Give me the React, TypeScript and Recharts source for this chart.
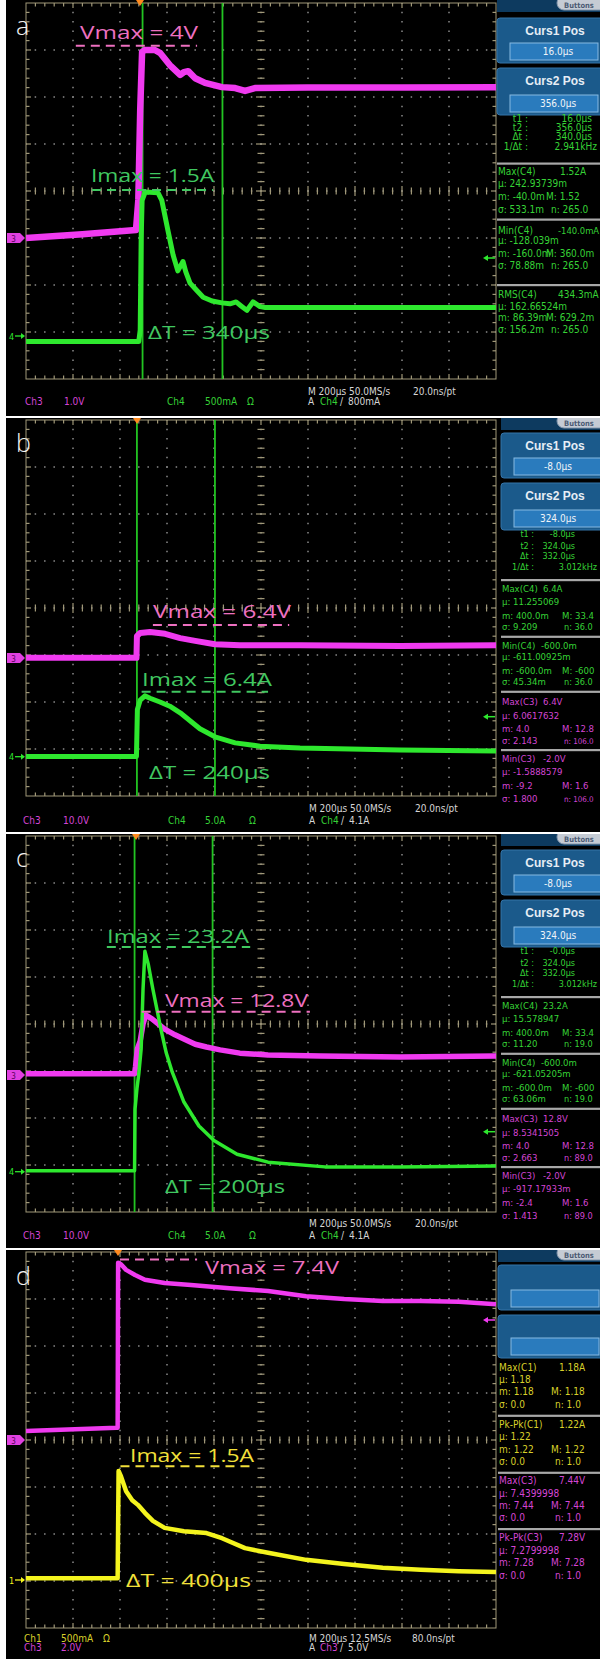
import React from 'react';
import { ComposedChart, Line, XAxis, YAxis, ReferenceLine, ReferenceArea } from 'recharts';

// ===================== values =====================
// time in µs from the trigger, voltage in V (Ch3), current in A (Ch4 / Ch1)

// ---- a) Ch3 1.0 V/div, Ch4 500 mA/div
const aVoltTime = [-480, -240, -12, -2, 6, 14, 26, 68, 90, 132, 176, 192, 210, 240, 282, 354, 410, 452, 494, 720, 1120, 1520];
const aVolt = [0, 0.08, 0.17, 0.81, 2.72, 3.96, 4, 4, 3.94, 3.68, 3.47, 3.53, 3.55, 3.4, 3.3, 3.21, 3.19, 3.13, 3.19, 3.2, 3.2, 3.21];
const aCurrTime = [-480, 0, 6, 10, 14, 26, 30, 82, 98, 124, 146, 166, 188, 200, 218, 244, 274, 312, 354, 388, 414, 434, 460, 486, 516, 538, 1020, 1520];
const aCurr = [0, 0, 0.12, 1.08, 1.5, 1.58, 1.59, 1.58, 1.5, 1.18, 0.92, 0.75, 0.85, 0.74, 0.62, 0.55, 0.47, 0.43, 0.41, 0.4, 0.42, 0.38, 0.33, 0.42, 0.37, 0.36, 0.36, 0.36];
const aCursors = [16, 356];

// ---- b) Ch3 10.0 V/div, Ch4 5.0 A/div
const bVoltTime = [-480, -10, -8, 6, 48, 112, 176, 240, 324, 430, 686, 1112, 1520];
const bVolt = [0, 0, 4.6, 5.3, 5.5, 5.1, 4.2, 3.6, 2.9, 2.7, 2.7, 2.5, 2.7];
const bCurrTime = [-480, -10, -6, 6, 26, 48, 90, 132, 176, 218, 260, 324, 410, 516, 686, 1112, 1520];
const bCurr = [0, 0, 5.0, 6.0, 6.45, 6.2, 5.8, 5.35, 4.65, 3.8, 2.95, 2.1, 1.45, 1.1, 0.9, 0.7, 0.6];
const bCursors = [-8, 324];

// ---- c) Ch3 10.0 V/div, Ch4 5.0 A/div
const cVoltTime = [-470, -8, -4, 4, 16, 28, 40, 66, 120, 164, 202, 250, 298, 356, 440, 560, 782, 1122, 1530];
const cVolt = [0, 0, 1.5, 5.3, 7.0, 10.6, 12.5, 11.7, 9.5, 8.3, 7.4, 6.3, 5.7, 5.1, 4.4, 4.0, 3.8, 3.6, 3.8];
const cCurrTime = [-470, -8, -6, 2, 10, 20, 28, 36, 50, 70, 104, 126, 152, 202, 266, 330, 428, 560, 802, 1122, 1530];
const cCurr = [0, 0, 6.55, 8.7, 10.3, 12.95, 19.3, 23.35, 22.0, 19.3, 15.05, 12.6, 10.5, 7.3, 4.75, 3.2, 1.75, 0.9, 0.4, 0.4, 0.5];
const cCursors = [-8, 324];

// ---- d) Ch3 2.0 V/div, Ch1 500 mA/div
const dVoltTime = [-392, -6, -2, 0, 12, 34, 72, 114, 198, 310, 474, 638, 800, 962, 1126, 1288, 1450, 1608];
const dVolt = [0.38, 0.52, 0.52, 7.54, 7.48, 7.24, 7.02, 6.82, 6.68, 6.6, 6.46, 6.34, 6.12, 6.0, 5.92, 5.92, 5.88, 5.78];
const dCurrTime = [-392, -2, 2, 12, 34, 60, 84, 114, 148, 198, 280, 376, 442, 540, 638, 800, 962, 1126, 1288, 1450, 1608];
const dCurr = [0, 0, 1.14, 1.085, 0.925, 0.83, 0.78, 0.695, 0.61, 0.535, 0.5, 0.48, 0.425, 0.32, 0.27, 0.195, 0.15, 0.11, 0.09, 0.075, 0.065];

// ===================== styles =====================
const NARROW = "'Liberation Sans Narrow', 'DejaVu Sans Condensed', 'Arial Narrow', sans-serif";
const BOLD = "'Liberation Sans', Arial, sans-serif";
const ANN = "'Open Sans', Lato, sans-serif";
const MAG = '#f03af0';
const GRN = '#2ee82e';
const YEL = '#f4f41e';
const CURSOR = '#22c422';
const PINK = '#ee70c0';
const GRN_ANN = '#40c860';
const YEL_ANN = '#f2e03a';
const GRN_T = '#36d236';
const MAG_T = '#d445d4';
const YEL_T = '#d8d02a';
const WHT_T = '#d6d6d6';
const FRAME = '#a09878';
const DOT = '#8a8a8a';
const RIGHT = 597;

type Pt = { t: number; y: number };
const zip = (ts: number[], ys: number[]): Pt[] => ts.map((t, i) => ({ t, y: ys[i] }));

function Graticule(props: any) {
  const { x, y, width: w, height: h } = props;
  const dx = w / 10, dy = h / 8, mx = dx / 5, my = dy / 5;
  const cx = x + w / 2, cy = y + h / 2;
  const out: React.ReactNode[] = [];
  for (let i = 1; i < 10; i++) {
    const xx = x + i * dx;
    out.push(<line key={'gv' + i} x1={xx} x2={xx} y1={y} y2={y + h} stroke={DOT} strokeWidth={1.5} strokeDasharray={`1.5 ${my - 1.5}`} strokeDashoffset={0.75} />);
  }
  for (let j = 1; j < 8; j++) {
    const yy = y + j * dy;
    out.push(<line key={'gh' + j} x1={x} x2={x + w} y1={yy} y2={yy} stroke={DOT} strokeWidth={1.5} strokeDasharray={`1.5 ${mx - 1.5}`} strokeDashoffset={0.75} />);
  }
  for (let k = 1; k < 50; k++) {
    const xx = x + k * mx;
    const L = k % 5 === 0 ? 5 : 3.5;
    out.push(<line key={'tc' + k} x1={xx} x2={xx} y1={cy - L} y2={cy + L} stroke={FRAME} strokeWidth={1.2} />);
    out.push(<line key={'tt' + k} x1={xx} x2={xx} y1={y} y2={y + L} stroke={FRAME} strokeWidth={1.2} />);
    out.push(<line key={'tb' + k} x1={xx} x2={xx} y1={y + h - L} y2={y + h} stroke={FRAME} strokeWidth={1.2} />);
  }
  for (let k = 1; k < 40; k++) {
    const yy = y + k * my;
    const L = k % 5 === 0 ? 5 : 3.5;
    out.push(<line key={'vc' + k} x1={cx - L} x2={cx + L} y1={yy} y2={yy} stroke={FRAME} strokeWidth={1.2} />);
    out.push(<line key={'vl' + k} x1={x} x2={x + L} y1={yy} y2={yy} stroke={FRAME} strokeWidth={1.2} />);
    out.push(<line key={'vr' + k} x1={x + w - L} x2={x + w} y1={yy} y2={yy} stroke={FRAME} strokeWidth={1.2} />);
  }
  out.push(<rect key="fr" x={x} y={y} width={w} height={h} fill="none" stroke={FRAME} strokeWidth={1} />);
  return <g>{out}</g>;
}

type Dash = { axis: 'v' | 'i'; t1: number; t2: number; y: number; color: string };
type PanelProps = {
  top: number; height: number; mTop: number;
  tDom: [number, number]; vDom: [number, number]; iDom: [number, number];
  vData: Pt[]; iData: Pt[]; vColor: string; iColor: string; vW: number; iW: number;
  cursors: number[]; dashes: Dash[]; children?: React.ReactNode;
};

function Panel(p: PanelProps) {
  return (
    <div style={{ position: 'absolute', left: 0, top: p.top, width: 600, height: p.height, overflow: 'hidden' }}>
      <div style={{ position: 'absolute', left: 6, top: 0, width: 594, height: p.height, background: '#000' }} />
      <div style={{ position: 'absolute', left: 0, top: 0 }}>
        <ComposedChart width={600} height={p.height} margin={{ top: p.mTop, right: 104, bottom: p.height - p.mTop - 376, left: 26 }}>
          <XAxis type="number" dataKey="t" domain={p.tDom} hide allowDataOverflow />
          <YAxis yAxisId="v" type="number" domain={p.vDom} hide allowDataOverflow />
          <YAxis yAxisId="i" type="number" domain={p.iDom} hide allowDataOverflow />
          <ReferenceArea yAxisId="v" x1={p.tDom[0]} x2={p.tDom[1]} y1={p.vDom[0]} y2={p.vDom[1]} shape={Graticule} ifOverflow="visible" />
          {p.cursors.map((c, k) => (
            <ReferenceLine key={'c' + k} yAxisId="v" x={c} stroke={CURSOR} strokeWidth={1.8} ifOverflow="visible" />
          ))}
          <Line yAxisId="v" data={p.vData} dataKey="y" type="linear" stroke={p.vColor} strokeWidth={p.vW} dot={false} strokeLinejoin="round" isAnimationActive={false} />
          <Line yAxisId="i" data={p.iData} dataKey="y" type="linear" stroke={p.iColor} strokeWidth={p.iW} dot={false} strokeLinejoin="round" isAnimationActive={false} />
          {p.dashes.map((d, k) => (
            <ReferenceLine key={'d' + k} yAxisId={d.axis} segment={[{ x: d.t1, y: d.y }, { x: d.t2, y: d.y }]} stroke={d.color} strokeWidth={2} strokeDasharray="9 6" ifOverflow="visible" />
          ))}
        </ComposedChart>
      </div>
      <svg width={600} height={p.height} style={{ position: 'absolute', left: 0, top: 0, pointerEvents: 'none' }}>
        {p.children}
      </svg>
    </div>
  );
}

// text helper; a text that would run past the right edge gets a smaller font so it fits
const Tx = ({ x, y, c = WHT_T, s = 10, a = 'start', f = NARROW, b = false, children }: any) => {
  let fs = s;
  if (a === 'start' && typeof children === 'string') {
    const est = children.length * s * 0.52;
    if (x + est > RIGHT) fs = Math.max(7, (s * (RIGHT - x)) / est);
  }
  return (
    <text x={x} y={y} fill={c} fontSize={fs} textAnchor={a} fontFamily={f} fontWeight={b ? 700 : 400}>{children}</text>
  );
};

const Ann = ({ x, y, w, c, children }: any) => (
  <text x={x} y={y} fill={c} fontSize={19} fontFamily={ANN} textLength={w} lengthAdjust="spacingAndGlyphs">{children}</text>
);

const Letter = ({ ch, y }: any) => (
  <text x={16} y={y} fill="#f2f2f2" fontSize={25} fontFamily={ANN} fontWeight={300}>{ch}</text>
);

const Trig = ({ x }: any) => <polygon points={`${x - 4},0 ${x + 4},0 ${x},6`} fill="#ff8a1e" />;

const MagMark = ({ y, n = '3' }: any) => (
  <g>
    <rect x={7} y={y - 5} width={13} height={10} fill="#e040e0" />
    <polygon points={`20,${y - 5} 25,${y} 20,${y + 5}`} fill="#e040e0" />
    <text x={13.5} y={y + 3.5} fontSize={8} fill="#5a005a" textAnchor="middle" fontFamily={NARROW}>{n}</text>
  </g>
);

const TxtMark = ({ y, n, c }: any) => (
  <g>
    <text x={9} y={y + 3.5} fontSize={9} fill={c} fontFamily={NARROW}>{n}</text>
    <line x1={15} x2={24} y1={y} y2={y} stroke={c} strokeWidth={1.3} />
    <polygon points={`21,${y - 3} 25,${y} 21,${y + 3}`} fill={c} />
  </g>
);

const LevelArrow = ({ y, c }: any) => (
  <g>
    <line x1={485} x2={495} y1={y} y2={y} stroke={c} strokeWidth={1.5} />
    <polygon points={`483,${y} 488,${y - 3} 488,${y + 3}`} fill={c} />
  </g>
);

function InfoBoxes({ x0, y1, y2, h2 = 47, t1, v1, t2, v2 }: any) {
  const boxes = [[y1, 45, t1, v1], [y2, h2, t2, v2]];
  return (
    <g>
      <rect x={x0} y={-2} width={610 - x0} height={14} fill="#0d3a5f" />
      <rect x={557} y={-4} width={54} height={14} rx={7} fill="#c5cbd4" stroke="#8397ae" />
      <text x={564} y={7.5} fontSize={7.5} fill="#4c5c74" fontFamily={NARROW} fontWeight={700}>Buttons</text>
      {boxes.map(([yy, hh, t, v]: any, k: number) => (
        <g key={k}>
          <rect x={x0} y={yy} width={610 - x0} height={hh} rx={3} fill="#1b5a8b" stroke="#3574a8" />
          {t ? <Tx x={555} y={yy + 17} s={12} a="middle" f={BOLD} b c="#e6edf5">{t}</Tx> : null}
          <rect x={x0 + 13} y={yy + hh - 20} width={88} height={17} fill="#2a7bbd" stroke="#86b9e2" strokeWidth={1} />
          {v ? <Tx x={558} y={yy + hh - 8} s={10} a="middle" c="#f0f4f8">{v}</Tx> : null}
        </g>
      ))}
    </g>
  );
}

const Sep = ({ x0, y }: any) => <rect x={x0} y={y - 1} width={610 - x0} height={2.2} fill="#a8a8a8" />;

type Row = [number, string, string?, number?];
const Rows = ({ rows, x0, c, s = 10 }: { rows: Row[]; x0: number; c: string; s?: number }) => (
  <g>
    {rows.map(([y, l, r, rx], k) => (
      <g key={k}>
        <Tx x={x0} y={y} c={c} s={s}>{l}</Tx>
        {r ? <Tx x={rx} y={y} c={c} s={s}>{r}</Tx> : null}
      </g>
    ))}
  </g>
);

export default function App() {
  return (
    <div style={{ position: 'absolute', left: 0, top: 0, width: 600, height: 1659, background: '#fff', overflow: 'hidden' }}>
      {/* ================= a ================= */}
      <Panel top={0} height={416} mTop={3} tDom={[-480, 1520]} vDom={[-3, 5]} iDom={[-0.4, 3.6]}
        vData={zip(aVoltTime, aVolt)} iData={zip(aCurrTime, aCurr)} vColor={MAG} iColor={GRN} vW={6.5} iW={5}
        cursors={aCursors}
        dashes={[
          { axis: 'v', t1: -268, t2: 248, y: 4.09, color: PINK },
          { axis: 'i', t1: -199, t2: 316, y: 1.61, color: GRN_ANN },
        ]}>
        <Letter ch="a" y={35} />
        <Trig x={140} />
        <MagMark y={238} />
        <TxtMark y={336} n="4" c={GRN} />
        <LevelArrow y={258} c={GRN} />
        <Ann x={80} y={38.5} w={118} c={PINK}>Vmax = 4V</Ann>
        <Ann x={91} y={182.3} w={123} c={GRN_ANN}>Imax = 1.5A</Ann>
        <Ann x={148} y={339} w={122} c={GRN_ANN}>ΔT = 340µs</Ann>
        <InfoBoxes x0={497} y1={18} y2={68} t1="Curs1 Pos" v1="16.0µs" t2="Curs2 Pos" v2="356.0µs" />
        {[[121.5, 't1 :', '16.0µs'], [130.5, 't2 :', '356.0µs'], [139.5, 'Δt :', '340.0µs'], [149.5, '1/Δt :', '2.941kHz']].map(([y, l, v]: any, k) => (
          <g key={k}>
            <Tx x={528} y={y} a="end" c={GRN_T}>{l}</Tx>
            <Tx x={k === 3 ? RIGHT : 592} y={y} a="end" c={GRN_T}>{v}</Tx>
          </g>
        ))}
        <Sep x0={497} y={163.5} />
        <Sep x0={497} y={219.5} />
        <Sep x0={497} y={285} />
        <Rows x0={498} c={GRN_T} rows={[
          [175, 'Max(C4)', '1.52A', 560], [187, 'µ: 242.93739m'], [200, 'm: -40.0m', 'M: 1.52', 546], [212.5, 'σ: 533.1m', 'n: 265.0', 551],
          [233.5, 'Min(C4)', '-140.0mA', 558], [244, 'µ: -128.039m'], [257, 'm: -160.0m', 'M: 360.0m', 546], [268.5, 'σ: 78.88m', 'n: 265.0', 551],
          [298, 'RMS(C4)', '434.3mA', 558], [309.5, 'µ: 162.66524m'], [321, 'm: 86.39m', 'M: 629.2m', 546], [333, 'σ: 156.2m', 'n: 265.0', 551],
        ]} />
        <Tx x={25} y={405} c={MAG_T}>Ch3</Tx>
        <Tx x={64} y={405} c={MAG_T}>1.0V</Tx>
        <Tx x={167} y={405} c={GRN_T}>Ch4</Tx>
        <Tx x={205} y={405} c={GRN_T}>500mA</Tx>
        <Tx x={247} y={405} c={GRN_T}>Ω</Tx>
        <Tx x={308} y={394.5}>M 200µs 50.0MS/s</Tx>
        <Tx x={413} y={394.5}>20.0ns/pt</Tx>
        <Tx x={308} y={405}>A</Tx>
        <Tx x={320} y={405} c={GRN_T}>Ch4</Tx>
        <Tx x={340} y={405}>/</Tx>
        <Tx x={348} y={405}>800mA</Tx>
      </Panel>

      {/* ================= b ================= */}
      <Panel top={418} height={414} mTop={2} tDom={[-480, 1520]} vDom={[-29.4, 50.6]} iDom={[-4.2, 35.8]}
        vData={zip(bVoltTime, bVolt)} iData={zip(bCurrTime, bCurr)} vColor={MAG} iColor={GRN} vW={6} iW={5}
        cursors={bCursors}
        dashes={[
          { axis: 'v', t1: 60, t2: 640, y: 7.0, color: PINK },
          { axis: 'i', t1: 12, t2: 550, y: 6.9, color: GRN_ANN },
        ]}>
        <Letter ch="b" y={34} />
        <Trig x={137} />
        <MagMark y={240} />
        <TxtMark y={338.7} n="4" c={GRN} />
        <LevelArrow y={298.7} c={GRN} />
        <Ann x={153} y={200.3} w={138} c={PINK}>Vmax = 6.4V</Ann>
        <Ann x={142} y={267.7} w={130} c={GRN_ANN}>Imax = 6.4A</Ann>
        <Ann x={149} y={361} w={121} c={GRN_ANN}>ΔT = 240µs</Ann>
        <InfoBoxes x0={501} y1={15} y2={65} t1="Curs1 Pos" v1="-8.0µs" t2="Curs2 Pos" v2="324.0µs" />
        {[[118.5, 't1 :', '-8.0µs'], [130.5, 't2 :', '324.0µs'], [140.5, 'Δt :', '332.0µs'], [152, '1/Δt :', '3.012kHz']].map(([y, l, v]: any, k) => (
          <g key={k}>
            <Tx x={534} y={y} a="end" c={GRN_T} s={9}>{l}</Tx>
            <Tx x={k === 3 ? RIGHT : 575} y={y} a="end" c={GRN_T} s={9}>{v}</Tx>
          </g>
        ))}
        <Sep x0={501} y={162} />
        <Sep x0={501} y={218.7} />
        <Sep x0={501} y={273.7} />
        <Sep x0={501} y={332} />
        <Rows x0={502} c={GRN_T} s={9.5} rows={[
          [173.5, 'Max(C4)', '6.4A', 543], [187, 'µ: 11.255069'], [200.5, 'm: 400.0m', 'M: 33.4', 562], [212, 'σ: 9.209', 'n: 36.0', 564],
          [230.5, 'Min(C4)', '-600.0m', 541], [242, 'µ: -611.00925m'], [255.5, 'm: -600.0m', 'M: -600', 562], [267, 'σ: 45.34m', 'n: 36.0', 564],
        ]} />
        <Rows x0={502} c={MAG_T} s={9.5} rows={[
          [287, 'Max(C3)', '6.4V', 543], [300.5, 'µ: 6.0617632'], [313.5, 'm: 4.0', 'M: 12.8', 562], [325.5, 'σ: 2.143', 'n: 106.0', 564],
          [343.5, 'Min(C3)', '-2.0V', 543], [357, 'µ: -1.5888579'], [370.5, 'm: -9.2', 'M: 1.6', 562], [383.5, 'σ: 1.800', 'n: 106.0', 564],
        ]} />
        <Tx x={23} y={405.5} c={MAG_T}>Ch3</Tx>
        <Tx x={63} y={405.5} c={MAG_T}>10.0V</Tx>
        <Tx x={168} y={405.5} c={GRN_T}>Ch4</Tx>
        <Tx x={205} y={405.5} c={GRN_T}>5.0A</Tx>
        <Tx x={249} y={405.5} c={GRN_T}>Ω</Tx>
        <Tx x={309} y={393.5}>M 200µs 50.0MS/s</Tx>
        <Tx x={415} y={393.5}>20.0ns/pt</Tx>
        <Tx x={309} y={405.5}>A</Tx>
        <Tx x={321} y={405.5} c={GRN_T}>Ch4</Tx>
        <Tx x={341} y={405.5}>/</Tx>
        <Tx x={349} y={405.5}>4.1A</Tx>
      </Panel>

      {/* ================= c ================= */}
      <Panel top={834} height={414} mTop={2} tDom={[-470, 1530]} vDom={[-29.4, 50.6]} iDom={[-4.4, 35.6]}
        vData={zip(cVoltTime, cVolt)} iData={zip(cCurrTime, cCurr)} vColor={MAG} iColor={GRN} vW={5.5} iW={3.5}
        cursors={cCursors}
        dashes={[
          { axis: 'i', t1: -126, t2: 484, y: 23.8, color: GRN_ANN },
          { axis: 'v', t1: 22, t2: 738, y: 13.2, color: PINK },
        ]}>
        <Letter ch="c" y={33} />
        <Trig x={136} />
        <MagMark y={241} />
        <TxtMark y={337.7} n="4" c={GRN} />
        <LevelArrow y={297.7} c={GRN} />
        <Ann x={107} y={109.3} w={142} c={GRN_ANN}>Imax = 23.2A</Ann>
        <Ann x={165} y={173.3} w={143} c={PINK}>Vmax = 12.8V</Ann>
        <Ann x={165} y={359.3} w={120} c={GRN_ANN}>ΔT = 200µs</Ann>
        <InfoBoxes x0={501} y1={16} y2={66} t1="Curs1 Pos" v1="-8.0µs" t2="Curs2 Pos" v2="324.0µs" />
        {[[119.5, 't1 :', '-0.0µs'], [131.5, 't2 :', '324.0µs'], [141.5, 'Δt :', '332.0µs'], [153, '1/Δt :', '3.012kHz']].map(([y, l, v]: any, k) => (
          <g key={k}>
            <Tx x={534} y={y} a="end" c={GRN_T} s={9}>{l}</Tx>
            <Tx x={k === 3 ? RIGHT : 575} y={y} a="end" c={GRN_T} s={9}>{v}</Tx>
          </g>
        ))}
        <Sep x0={501} y={163} />
        <Sep x0={501} y={219.7} />
        <Sep x0={501} y={274.7} />
        <Sep x0={501} y={333} />
        <Rows x0={502} c={GRN_T} s={9.5} rows={[
          [174.5, 'Max(C4)', '23.2A', 543], [188, 'µ: 15.578947'], [201.5, 'm: 400.0m', 'M: 33.4', 562], [213, 'σ: 11.20', 'n: 19.0', 564],
          [231.5, 'Min(C4)', '-600.0m', 541], [243, 'µ: -621.05205m'], [256.5, 'm: -600.0m', 'M: -600', 562], [268, 'σ: 63.06m', 'n: 19.0', 564],
        ]} />
        <Rows x0={502} c={MAG_T} s={9.5} rows={[
          [288, 'Max(C3)', '12.8V', 543], [301.5, 'µ: 8.5341505'], [314.5, 'm: 4.0', 'M: 12.8', 562], [326.5, 'σ: 2.663', 'n: 89.0', 564],
          [344.5, 'Min(C3)', '-2.0V', 543], [358, 'µ: -917.17933m'], [371.5, 'm: -2.4', 'M: 1.6', 562], [384.5, 'σ: 1.413', 'n: 89.0', 564],
        ]} />
        <Tx x={23} y={405} c={MAG_T}>Ch3</Tx>
        <Tx x={63} y={405} c={MAG_T}>10.0V</Tx>
        <Tx x={168} y={405} c={GRN_T}>Ch4</Tx>
        <Tx x={205} y={405} c={GRN_T}>5.0A</Tx>
        <Tx x={249} y={405} c={GRN_T}>Ω</Tx>
        <Tx x={309} y={392.5}>M 200µs 50.0MS/s</Tx>
        <Tx x={415} y={392.5}>20.0ns/pt</Tx>
        <Tx x={309} y={405}>A</Tx>
        <Tx x={321} y={405} c={GRN_T}>Ch4</Tx>
        <Tx x={341} y={405}>/</Tx>
        <Tx x={349} y={405}>4.1A</Tx>
      </Panel>

      {/* ================= d ================= */}
      <Panel top={1250} height={409} mTop={2} tDom={[-392, 1608]} vDom={[-8, 8]} iDom={[-0.53, 3.47]}
        vData={zip(dVoltTime, dVolt)} iData={zip(dCurrTime, dCurr)} vColor={MAG} iColor={YEL} vW={4.5} iW={4.5}
        cursors={[]}
        dashes={[
          { axis: 'v', t1: 8, t2: 336, y: 7.68, color: PINK },
          { axis: 'i', t1: 10, t2: 564, y: 1.19, color: YEL_ANN },
        ]}>
        <Letter ch="d" y={35} />
        <Trig x={118} />
        <MagMark y={190} />
        <TxtMark y={330} n="1" c={YEL} />
        <LevelArrow y={70} c={MAG} />
        <Ann x={205} y={24.3} w={134} c={PINK}>Vmax = 7.4V</Ann>
        <Ann x={130} y={211.7} w={124} c={YEL_ANN}>Imax = 1.5A</Ann>
        <Ann x={126} y={336.7} w={125} c={YEL_ANN}>ΔT = 400µs</Ann>
        <InfoBoxes x0={498} y1={15} y2={65} h2={43} />
        <Sep x0={498} y={165.7} />
        <Sep x0={498} y={222.7} />
        <Sep x0={498} y={279} />
        <Rows x0={499} c={YEL_T} rows={[
          [121, 'Max(C1)', '1.18A', 559], [132.5, 'µ: 1.18'], [145, 'm: 1.18', 'M: 1.18', 551], [157.5, 'σ: 0.0', 'n: 1.0', 555],
          [177.5, 'Pk-Pk(C1)', '1.22A', 559], [190, 'µ: 1.22'], [202.5, 'm: 1.22', 'M: 1.22', 551], [214.5, 'σ: 0.0', 'n: 1.0', 555],
        ]} />
        <Rows x0={499} c={MAG_T} rows={[
          [234, 'Max(C3)', '7.44V', 559], [246.5, 'µ: 7.4399998'], [259, 'm: 7.44', 'M: 7.44', 551], [271, 'σ: 0.0', 'n: 1.0', 555],
          [291, 'Pk-Pk(C3)', '7.28V', 559], [303.5, 'µ: 7.2799998'], [315.5, 'm: 7.28', 'M: 7.28', 551], [328.5, 'σ: 0.0', 'n: 1.0', 555],
        ]} />
        <Tx x={24} y={391.5} c={YEL_T}>Ch1</Tx>
        <Tx x={61} y={391.5} c={YEL_T}>500mA</Tx>
        <Tx x={103} y={391.5} c={YEL_T}>Ω</Tx>
        <Tx x={24} y={400.5} c={MAG_T}>Ch3</Tx>
        <Tx x={61} y={400.5} c={MAG_T}>2.0V</Tx>
        <Tx x={309} y={391.5}>M 200µs 12.5MS/s</Tx>
        <Tx x={412} y={391.5}>80.0ns/pt</Tx>
        <Tx x={309} y={400.5}>A</Tx>
        <Tx x={320} y={400.5} c={MAG_T}>Ch3</Tx>
        <Tx x={340} y={400.5}>/</Tx>
        <Tx x={348} y={400.5}>5.0V</Tx>
      </Panel>
    </div>
  );
}
